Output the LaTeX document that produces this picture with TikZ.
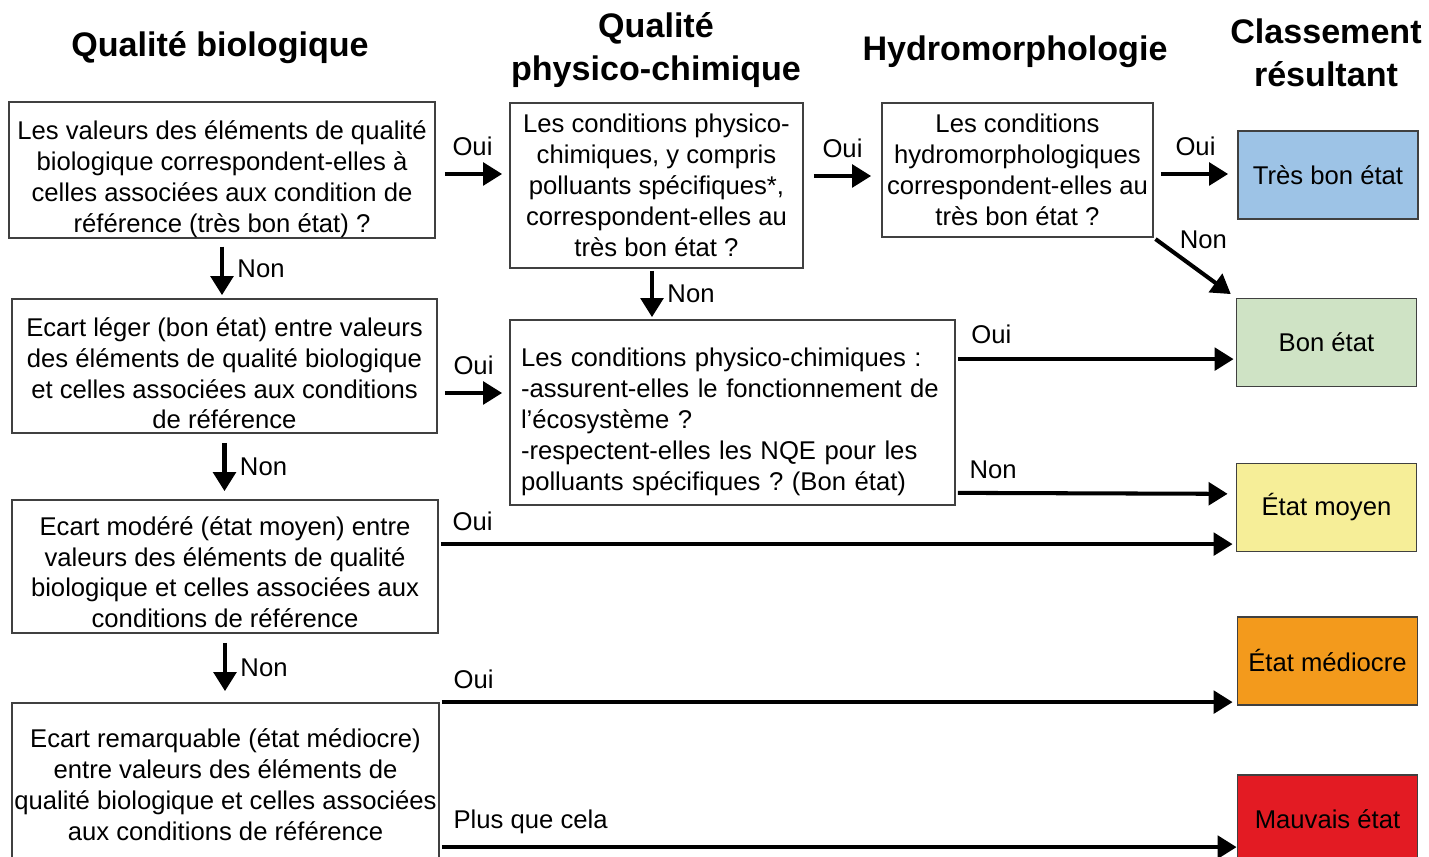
\documentclass[tikz,border=0pt]{standalone}
\usepackage{fontspec}
\setmainfont{Liberation Sans}
\frenchspacing
\usetikzlibrary{arrows.meta,calc}

\definecolor{tresbon}{HTML}{9DC3E6}
\definecolor{bon}{HTML}{CFE3C5}
\definecolor{moyen}{HTML}{F6EE98}
\definecolor{mediocre}{HTML}{F39A1C}
\definecolor{mauvais}{HTML}{E31B23}

\tikzset{
  question/.style={draw=black!75, line width=0.5pt, align=center, inner sep=0pt,
    font=\fontsize{7.3}{8.8}\selectfont},
  haut/.style={text width=42mm, align=flush center, execute at begin node={\rule{0pt}{#1}}},
  resultat/.style={question, minimum width=18mm, minimum height=8.8mm},
  titre/.style={align=center, font=\fontsize{9.7}{12.2}\selectfont\bfseries},
  rep/.style={font=\fontsize{7.3}{8.8}\selectfont},
  fleche/.style={line width=1.15pt, -{Triangle[length=5.4pt,width=6.4pt]}}
}

\begin{document}
\begin{tikzpicture}[x=0.1mm,y=-0.1mm]
            \useasboundingbox (0,0) rectangle (1429,857);
            %
            \node (T1) at (220,48) [titre]{Qualité biologique};
            \node (T2) at (656,50) [titre]{Qualité\\physico-chimique};
            \node (T3) at (1015,52) [titre]{Hydromorphologie};
            \node (T4) at (1326,53) [titre]{Classement\\résultant};
            %
            \node (B1) at (222,170) [question, haut=10.6pt, minimum width=42.6mm, minimum height=13.4mm]
              {Les valeurs des éléments de qualité\\biologique correspondent-elles à\\celles associées aux condition de\\référence (très bon état) ?};
            \node (B2) at (224.5,366) [question, haut=9.5pt, minimum width=42.5mm, minimum height=13.4mm]
              {Ecart léger (bon état) entre valeurs\\des éléments de qualité biologique\\et celles associées aux conditions\\de référence};
            \node (B3) at (225,566.5) [question, haut=8.6pt, minimum width=42.6mm, minimum height=13.3mm]
              {Ecart modéré (état moyen) entre\\valeurs des éléments de qualité\\biologique et celles associées aux\\conditions de référence};
            \node (B4) at (225.5,785) [question, minimum width=42.7mm, minimum height=16.4mm]
              {Ecart remarquable (état médiocre)\\entre valeurs des éléments de\\qualité biologique et celles associées\\aux conditions de référence};
            %
            \node (P1) at (656.5,185.5) [question, minimum width=29.3mm, minimum height=16.5mm]
              {Les conditions physico-\\chimiques, y compris\\polluants spécifiques*,\\correspondent-elles au\\très bon état ?};
            \node (P2) at (732.5,412.5) [question, haut=10.6pt, minimum width=44.5mm, minimum height=18.5mm,
              text width=42.3mm, align=left]
              {Les conditions physico-chimiques :\\-assurent-elles le fonctionnement de\\l’écosystème ?\\-respectent-elles les NQE pour les\\polluants spécifiques ? (Bon état)};
            %
            \node (H1) at (1017.5,170) [question, minimum width=27.1mm, minimum height=13.4mm]
              {Les conditions\\hydromorphologiques\\correspondent-elles au\\très bon état ?};
            %
            \node (R1) at (1328,175) [resultat, fill=tresbon]{Très bon état};
            \node (R2) at (1326.5,342.5) [resultat, fill=bon]{Bon état};
            \node (R3) at (1326.5,507.5) [resultat, fill=moyen]{État moyen};
            \node (R4) at (1327.5,661) [resultat, fill=mediocre]{État médiocre};
            \node (R5) at (1327.5,819) [resultat, fill=mauvais]{Mauvais état};
            %
            \draw[fleche, shorten <=0.8mm, shorten >=0.3mm] (B1.south) -- (B1.south |- B2.north)
              node[midway, right=0.5pt, rep]{Non};
            \draw[fleche, shorten <=0.9mm, shorten >=0.8mm] (B2.south) -- (B2.south |- B3.north)
              node[midway, right=0.5pt, rep]{Non};
            \draw[fleche, shorten <=0.9mm, shorten >=1.1mm] (B3.south) -- (B3.south |- B4.north)
              node[midway, right=0.5pt, rep]{Non};
            %
            \draw[fleche, shorten <=0.9mm, shorten >=0.7mm] ($(B1.east)+(0,4)$) -- ($(B1.east -| P1.west)+(0,4)$)
              node[midway, above=1.3pt, rep]{Oui};
            \draw[fleche, shorten <=0.7mm, shorten >=0.7mm] ($(B2.east)+(0,27)$) -- ($(B2.east -| P2.west)+(0,27)$)
              node[midway, above=1.3pt, rep]{Oui};
            \draw[fleche, shorten <=1mm, shorten >=1mm] ($(P1.east)+(0,-9.5)$) -- ($(P1.east -| H1.west)+(0,-9.5)$)
              node[midway, above=1.3pt, rep]{Oui};
            \draw[fleche, shorten <=0.7mm, shorten >=0.9mm] ($(H1.east)+(0,4)$) -- ($(H1.east -| R1.west)+(0,4)$)
              node[midway, above=1.3pt, rep]{Oui};
            \draw[fleche, shorten <=0.2mm, shorten >=0.6mm] (H1.south east) -- (R2.north west)
              node[pos=0.15, right, yshift=2pt, rep]{Non};
            %
            \draw[fleche, shorten <=0.2mm, shorten >=0.2mm] ($(P1.south)+(-4.5,0)$) -- ($(P1.south |- P2.north)+(-4.5,0)$)
              node[midway, right=0.5pt, rep]{Non};
            \draw[fleche, shorten <=0.2mm, shorten >=0.2mm] ($(P2.north east)+(0,40)$) -- ($(P2.north east -| R2.west)+(0,40)$)
              node[pos=0, above right=0.5pt, rep]{Oui};
            \draw[fleche, shorten <=0.2mm, shorten >=0.8mm] ($(P2.south east)+(0,-13)$) -- ($(P2.south east -| R3.west)+(0,-12)$)
              node[pos=0, above right, rep]{Non};
            %
            \draw[fleche, shorten <=0.2mm, shorten >=0.3mm] ($(B3.north east)+(0,45)$) -- ($(B3.north east -| R3.west)+(0,45)$)
              node[pos=0, above right, rep]{Oui};
            \draw[fleche, shorten <=0.2mm, shorten >=0.4mm] (B4.north east) -- (B4.north east -| R4.west)
              node[pos=0, above right, rep]{Oui};
            \draw[fleche, shorten <=0.2mm, shorten >=0mm] ($(B4.north east)+(0,145)$) -- ($(B4.north east -| R5.west)+(0,145)$)
              node[pos=0, above right, rep]{Plus que cela};
        \end{tikzpicture}
\end{document}
